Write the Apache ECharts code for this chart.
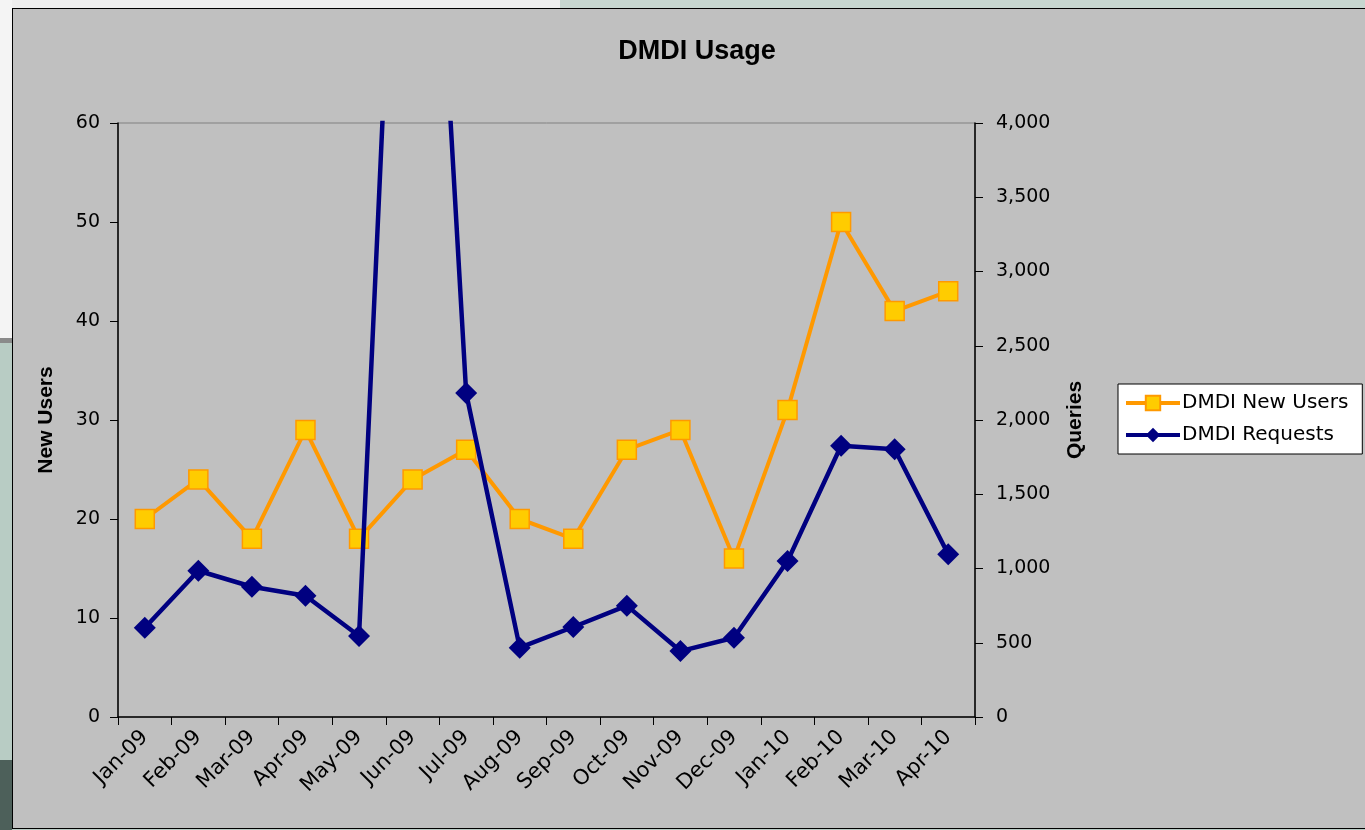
<!DOCTYPE html>
<html>
<head>
<meta charset="utf-8">
<title>DMDI Usage</title>
<script src="https://cdn.jsdelivr.net/npm/echarts@6/dist/echarts.min.js"></script>
<style>
  html, body { margin: 0; padding: 0; width: 1365px; height: 830px; overflow: hidden; background: #b9cbc4; }
  .strip { position: absolute; }
  #topbar { left: 0; top: 0; width: 1365px; height: 8px; background: #c7d6d0; }
  #winTop { left: 0; top: 0; width: 560px; height: 8px; background: #eeeeee; }
  #winLeft { left: 0; top: 0; width: 12px; height: 340px; background: #f4f4f4; }
  #winLeft2 { left: 0; top: 338px; width: 12px; height: 5px; background: #8a8a8a; }
  #deskLeft { left: 0; top: 343px; width: 12px; height: 417px; background: #b8ccc4; }
  #deskLow { left: 0; top: 760px; width: 12px; height: 70px; background: #4d605a; }
  #chartBox { position: absolute; left: 12px; top: 8px; width: 1360px; height: 819px;
              background: #c0c0c0; border: 1px solid #000; }
  #chart_main { position: absolute; left: 0; top: 0; width: 1365px; height: 830px; }
</style>
</head>
<body>
<div class="strip" id="topbar"></div>
<div class="strip" id="winTop"></div>
<div class="strip" id="winLeft"></div>
<div class="strip" id="winLeft2"></div>
<div class="strip" id="deskLeft"></div>
<div class="strip" id="deskLow"></div>
<div id="chartBox"></div>
<div id="chart_main"></div>
<script>
/*------------------------- DMDI Usage data -------------------------*/
var months = ['Jan-09','Feb-09','Mar-09','Apr-09','May-09','Jun-09','Jul-09','Aug-09',
              'Sep-09','Oct-09','Nov-09','Dec-09','Jan-10','Feb-10','Mar-10','Apr-10'];
var newUsers = [20, 24, 18, 29, 18, 24, 27, 20, 18, 27, 29, 16, 31, 50, 41, 43];
var requests = [601, 985, 877, 817, 545, 8470, 2182, 467, 606, 750, 444, 534, 1050, 1827, 1803, 1096];
var usersTicks = [0, 60, 10];      // min, max, step
var queryTicks = [0, 4000, 500];

var myChart_main = echarts.init(document.getElementById('chart_main'));

var tickFont = '"DejaVu Sans", Verdana, sans-serif';
var boldFont = '"Liberation Sans", Arial, sans-serif';

var optionMain = {
    backgroundColor: 'transparent',
    animation: false,
    title: {
        text: 'DMDI Usage',
        left: 692,
        top: 33,
        textAlign: 'center',
        textStyle: { fontFamily: boldFont, fontSize: 27, fontWeight: 'bold', color: '#000' }
    },
    legend: {
        orient: 'vertical',
        left: 1118,
        top: 384,
        width: 240,
        backgroundColor: '#ffffff',
        borderColor: '#000',
        borderWidth: 1,
        borderRadius: 0,
        padding: [9, 14, 9, 6],
        itemGap: 12,
        itemWidth: 54,
        itemHeight: 18,
        lineStyle: { width: 4 },
        textStyle: { fontFamily: tickFont, fontSize: 20, color: '#000', padding: [0, 0, 0, -3] },
        data: ['DMDI New Users', 'DMDI Requests']
    },
    grid: {
        left: 118,
        right: 390,
        top: 123,
        bottom: 113,
        show: true,
        backgroundColor: 'transparent',
        borderColor: '#808080',
        borderWidth: 1
    },
    xAxis: {
        type: 'category',
        boundaryGap: true,
        data: months,
        axisLine: { lineStyle: { color: '#000', width: 1.5 } },
        axisTick: { show: true, length: 8, lineStyle: { color: '#000' } },
        axisLabel: {
            interval: 0,
            rotate: 45,
            margin: 17,
            fontFamily: tickFont,
            fontSize: 21,
            color: '#000'
        },
        splitLine: { show: false }
    },
    yAxis: [
        {
            type: 'value',
            min: usersTicks[0],
            max: usersTicks[1],
            interval: usersTicks[2],
            name: 'New Users',
            nameLocation: 'middle',
            nameGap: 61,
            nameTextStyle: { fontFamily: boldFont, fontSize: 21, fontWeight: 'bold', color: '#000' },
            axisLine: { show: true, lineStyle: { color: '#000', width: 1.5 } },
            axisTick: { show: true, length: 8, lineStyle: { color: '#000' } },
            axisLabel: { margin: 18, fontFamily: tickFont, fontSize: 19, color: '#000' },
            splitLine: { show: false }
        },
        {
            type: 'value',
            position: 'right',
            min: queryTicks[0],
            max: queryTicks[1],
            interval: queryTicks[2],
            name: 'Queries',
            nameLocation: 'middle',
            nameGap: 90,
            nameTextStyle: { fontFamily: boldFont, fontSize: 21, fontWeight: 'bold', color: '#000' },
            axisLine: { show: true, lineStyle: { color: '#000', width: 1.5 } },
            axisTick: { show: true, length: 8, lineStyle: { color: '#000' } },
            axisLabel: {
                margin: 21,
                fontFamily: tickFont,
                fontSize: 19,
                color: '#000',
                formatter: function (v) { return v.toLocaleString('en-US'); }
            },
            splitLine: { show: false }
        }
    ],
    series: [
        {
            name: 'DMDI New Users',
            type: 'line',
            yAxisIndex: 0,
            data: newUsers,
            symbol: 'rect',
            symbolSize: 19,
            showAllSymbol: true,
            lineStyle: { color: '#FF9900', width: 4 },
            itemStyle: { color: '#FFCC00', borderColor: '#FF9900', borderWidth: 1.5 },
            z: 2
        },
        {
            name: 'DMDI Requests',
            type: 'line',
            yAxisIndex: 1,
            data: requests,
            symbol: 'diamond',
            symbolSize: 22,
            showAllSymbol: true,
            clip: true,
            lineStyle: { color: '#000080', width: 4.5 },
            itemStyle: { color: '#000080' },
            z: 3
        }
    ]
};

myChart_main.setOption(optionMain);
window.onresize = function () {
    myChart_main.resize();
};
</script>
</body>
</html>
